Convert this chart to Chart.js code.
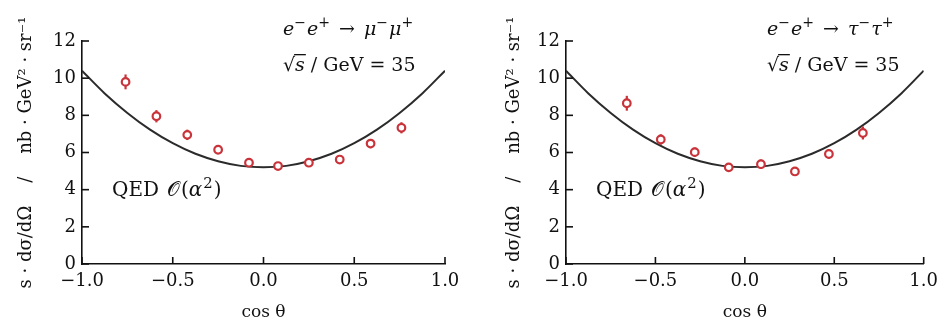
<!DOCTYPE html>
<html>
<head>
<meta charset="utf-8">
<script src="https://cdn.jsdelivr.net/npm/chart.js@4.4.0/dist/chart.umd.min.js"></script>
<style>
  html, body { margin: 0; padding: 0; background: #fff; }
  #wrap { position: relative; width: 945px; height: 327px; }
  .box { position: absolute; top: 0; height: 327px; }
</style>
</head>
<body>
<div id="wrap">
  <div class="box" style="left:0;width:472px"><canvas id="muon"></canvas></div>
  <div class="box" style="left:488px;width:457px"><canvas id="tau"></canvas></div>
</div>
<script>
// measured points, e+e- -> mu+mu-
const muCos = [-0.76, -0.59, -0.42, -0.25, -0.08, 0.08, 0.25, 0.42, 0.59, 0.76];
const muVal = [9.80, 7.95, 6.95, 6.15, 5.45, 5.27, 5.45, 5.62, 6.48, 7.33];
const muErr = [0.40, 0.33, 0.28, 0.25, 0.22, 0.20, 0.20, 0.22, 0.25, 0.30];

// measured points, e+e- -> tau+tau-
const tauCos = [-0.66, -0.47, -0.28, -0.09, 0.09, 0.28, 0.47, 0.66];
const tauVal = [8.65, 6.70, 6.02, 5.20, 5.37, 4.98, 5.92, 7.05];
const tauErr = [0.40, 0.28, 0.25, 0.20, 0.25, 0.22, 0.25, 0.35];

// QED curve
const qedCos = [-1, -0.875, -0.75, -0.625, -0.5, -0.375, -0.25, -0.125, 0,
                0.125, 0.25, 0.375, 0.5, 0.625, 0.75, 0.875, 1];
const qedVal = [10.4, 9.18, 8.13, 7.23, 6.5, 5.93, 5.53, 5.28, 5.2,
                5.28, 5.53, 5.93, 6.5, 7.23, 8.13, 9.18, 10.4];

const xTicks = [-1, -0.5, 0, 0.5, 1];
const yTicks = [0, 2, 4, 6, 8, 10, 12];

const RED = "#c9333a";
const INK = "#111";
const FONT = '"DejaVu Serif", "Liberation Serif", serif';

const fmtX = (v) => (v < 0 ? "\u2212" : "") + Math.abs(v).toFixed(1);

function drawRich(ctx, x, y, segs, size) {
  for (const s of segs) {
    const fs = s.sup ? size * 0.74 : size;
    ctx.font = (s.it ? "italic " : "") + fs + "px " + FONT;
    const dy = s.sup ? -size * 0.42 : 0;
    ctx.fillText(s.t, x, y + dy);
    const w = ctx.measureText(s.t).width;
    if (s.bar) {
      ctx.beginPath();
      ctx.moveTo(x - 1, y - size * 0.86);
      ctx.lineTo(x + w + 1, y - size * 0.86);
      ctx.stroke();
    }
    x += w + (s.gap || 0);
  }
}

// inward tick marks, error bars and the text notes
const decor = {
  id: "decor",
  afterDatasetDraw(chart, args, opts) {
    if (args.index !== 1) return;
    const { x, y } = chart.scales;
    const ctx = chart.ctx;
    ctx.save();
    ctx.strokeStyle = RED;
    ctx.lineWidth = 2.2;
    opts.cos.forEach((c, i) => {
      const px = x.getPixelForValue(c);
      ctx.beginPath();
      ctx.moveTo(px, y.getPixelForValue(opts.val[i] - opts.err[i]));
      ctx.lineTo(px, y.getPixelForValue(opts.val[i] + opts.err[i]));
      ctx.stroke();
    });
    ctx.restore();
  },
  afterDraw(chart, args, opts) {
    const { x, y } = chart.scales;
    const area = chart.chartArea;
    const ctx = chart.ctx;
    ctx.save();
    ctx.strokeStyle = INK;
    ctx.lineWidth = 1.6;
    xTicks.forEach((v) => {
      const px = x.getPixelForValue(v);
      ctx.beginPath();
      ctx.moveTo(px, area.bottom);
      ctx.lineTo(px, area.bottom - 7);
      ctx.stroke();
    });
    yTicks.forEach((v) => {
      const py = y.getPixelForValue(v);
      ctx.beginPath();
      ctx.moveTo(area.left, py);
      ctx.lineTo(area.left + 7, py);
      ctx.stroke();
    });
    ctx.fillStyle = INK;
    ctx.lineWidth = 1.3;
    ctx.textBaseline = "alphabetic";
    ctx.textAlign = "left";
    const lx = area.left + 201;
    drawRich(ctx, lx, 35, opts.process, 19);
    drawRich(ctx, lx, 71, [
      { t: "\u221A" },
      { t: "s", it: true, bar: true, gap: 6 },
      { t: "/ GeV", gap: 6 },
      { t: "=", gap: 6 },
      { t: "35" },
    ], 19);
    drawRich(ctx, area.left + 30, 196, [
      { t: "QED", gap: 8 },
      { t: "\uD835\uDCAA", gap: 1 },
      { t: "(" },
      { t: "\u03B1", it: true, gap: 1 },
      { t: "2", sup: true, gap: 1 },
      { t: ")" },
    ], 20);
    ctx.restore();
  },
};

function makeChart(id, cos, val, err, process, axisWidth, padRight) {
  const pts = cos.map((c, i) => ({ x: c, y: val[i] }));
  const curve = qedCos.map((c, i) => ({ x: c, y: qedVal[i] }));
  return new Chart(document.getElementById(id), {
    type: "scatter",
    data: {
      datasets: [
        {
          data: pts,
          pointRadius: 3.8,
          pointBorderWidth: 2.2,
          pointBorderColor: RED,
          pointBackgroundColor: "#fff",
          showLine: false,
        },
        {
          data: curve,
          showLine: true,
          pointRadius: 0,
          borderColor: "#2b2b2b",
          borderWidth: 2,
          cubicInterpolationMode: "monotone",
        },
      ],
    },
    options: {
      responsive: true,
      maintainAspectRatio: false,
      animation: false,
      layout: { padding: { left: 0, right: padRight, top: 41, bottom: 0 } },
      plugins: {
        legend: { display: false },
        tooltip: { enabled: false },
        decor: { cos, val, err, process },
      },
      scales: {
        x: {
          type: "linear",
          min: -1,
          max: 1,
          afterBuildTicks: (s) => { s.ticks = xTicks.map((v) => ({ value: v })); },
          afterFit: (s) => { s.height = 63; },
          grid: { display: false, drawTicks: false },
          border: { display: true, color: INK, width: 1.6 },
          ticks: {
            padding: 7,
            color: INK,
            font: { family: FONT, size: 18 },
            callback: (v) => fmtX(v),
            maxRotation: 0,
          },
          title: {
            display: true,
            text: "cos \u03B8",
            color: INK,
            font: { family: FONT, size: 17 },
            padding: { top: 0, bottom: 4 },
          },
        },
        y: {
          min: 0,
          max: 12,
          afterBuildTicks: (s) => { s.ticks = yTicks.map((v) => ({ value: v })); },
          afterFit: (s) => { s.width = axisWidth; },
          grid: { display: false, drawTicks: false },
          border: { display: true, color: INK, width: 1.6 },
          ticks: {
            padding: 6,
            color: INK,
            font: { family: FONT, size: 18 },
          },
          title: {
            display: true,
            text: "s \u00B7 d\u03C3/d\u03A9    /    nb \u00B7 GeV\u00B2 \u00B7 sr\u207B\u00B9",
            color: INK,
            font: { family: FONT, size: 18 },
            padding: { top: 16, bottom: 0 },
          },
        },
      },
    },
    plugins: [decor],
  });
}

const muProc = [
  { t: "e", it: true }, { t: "\u2212", sup: true, gap: 1 }, { t: "e", it: true }, { t: "+", sup: true, gap: 9 },
  { t: "\u2192", gap: 9 },
  { t: "\u03BC", it: true }, { t: "\u2212", sup: true, gap: 1 }, { t: "\u03BC", it: true }, { t: "+", sup: true },
];
const tauProc = [
  { t: "e", it: true }, { t: "\u2212", sup: true, gap: 1 }, { t: "e", it: true }, { t: "+", sup: true, gap: 9 },
  { t: "\u2192", gap: 9 },
  { t: "\u03C4", it: true }, { t: "\u2212", sup: true, gap: 1 }, { t: "\u03C4", it: true }, { t: "+", sup: true },
];

makeChart("muon", muCos, muVal, muErr, muProc, 82, 27);
makeChart("tau", tauCos, tauVal, tauErr, tauProc, 78, 16);
</script>
</body>
</html>
